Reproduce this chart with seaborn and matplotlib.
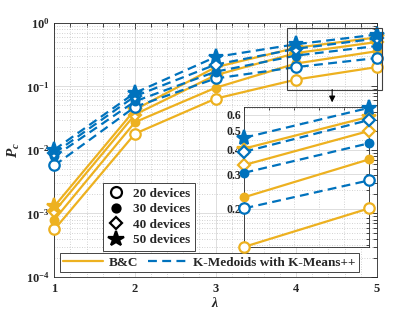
import numpy as np
import pandas as pd
import matplotlib
matplotlib.use('Agg')
import matplotlib.pyplot as plt
import seaborn as sns
from matplotlib.lines import Line2D
from matplotlib.patches import Rectangle
from matplotlib.ticker import FixedLocator, NullFormatter, MultipleLocator

# ---------------- data ----------------
lam = [1, 2, 3, 4, 5]
device_labels = ['20 devices', '30 devices', '40 devices', '50 devices']
method_labels = ['B&C', 'K-Medoids with K-Means++']

bc_20 = [5.6e-4, 0.018, 0.064, 0.128, 0.201]
bc_30 = [8.0e-4, 0.0273, 0.095, 0.229, 0.357]
bc_40 = [1.08e-3, 0.036, 0.150, 0.334, 0.498]
bc_50 = [1.3e-3, 0.043, 0.200, 0.405, 0.588]
km_20 = [5.7e-3, 0.0475, 0.133, 0.201, 0.279]
km_30 = [7.9e-3, 0.058, 0.170, 0.305, 0.431]
km_40 = [8.9e-3, 0.070, 0.220, 0.390, 0.566]
km_50 = [1.01e-2, 0.079, 0.290, 0.460, 0.653]

main_yticks = [1e-4, 1e-3, 1e-2, 1e-1, 1e0]
main_yticklabels = [r'$\mathbf{10^{-4}}$', r'$\mathbf{10^{-3}}$', r'$\mathbf{10^{-2}}$',
                    r'$\mathbf{10^{-1}}$', r'$\mathbf{10^{0}}$']
inset_yticks = [0.2, 0.3, 0.4, 0.5, 0.6]
inset_yticklabels = ['0.2', '0.3', '0.4', '0.5', '0.6']

# ---------------- style ----------------
sns.set_style('white')
plt.rcParams['font.family'] = ['Liberation Serif', 'DejaVu Serif']
plt.rcParams['font.weight'] = 'bold'
plt.rcParams['mathtext.fontset'] = 'custom'
plt.rcParams['mathtext.rm'] = 'Liberation Serif'
plt.rcParams['mathtext.it'] = 'Liberation Serif:italic'
plt.rcParams['mathtext.bf'] = 'Liberation Serif:bold'

ORANGE = '#EDB120'
BLUE = '#0072BD'
DASH = (0, (4.0, 2.4))

series = {
    ('B&C', 0): bc_20, ('B&C', 1): bc_30, ('B&C', 2): bc_40, ('B&C', 3): bc_50,
    ('KM', 0): km_20, ('KM', 1): km_30, ('KM', 2): km_40, ('KM', 3): km_50,
}
rows = []
for (m, d), vals in series.items():
    for x, v in zip(lam, vals):
        rows.append({'method': m, 'dev': d, 'lam': x, 'pc': v})
df = pd.DataFrame(rows)

marker_specs = [
    dict(marker='o', ms=7.5, filled=False),
    dict(marker='o', ms=5.5, filled=True),
    dict(marker='D', ms=6.0, filled=False),
    dict(marker='*', ms=11.0, filled=True),
]


def draw(ax, data, lw=1.6):
    for m, color, ls in [('B&C', ORANGE, '-'), ('KM', BLUE, DASH)]:
        for d in range(4):
            sub = data[(data.method == m) & (data.dev == d)]
            spec = marker_specs[d]
            sns.lineplot(data=sub, x='lam', y='pc', ax=ax, color=color,
                         linestyle=ls, lw=lw, marker=spec['marker'],
                         ms=spec['ms'], mec=color,
                         mfc=(color if spec['filled'] else 'white'),
                         mew=1.6, clip_on=False, zorder=3)


fig = plt.figure(figsize=(4.15, 3.12), dpi=100)
ax = fig.add_axes([0.131, 0.112, 0.777, 0.815])
ax.set_yscale('log')
draw(ax, df)
ax.set_xlim(1, 5)
ax.set_ylim(1e-4, 1)
ax.set_xticks(lam)
ax.set_xticklabels([str(v) for v in lam], fontsize=9, fontweight='bold')
ax.xaxis.set_minor_locator(MultipleLocator(0.2))
ax.yaxis.set_major_locator(FixedLocator(main_yticks))
ax.set_yticklabels(main_yticklabels, fontsize=9)
ax.yaxis.set_minor_formatter(NullFormatter())
ax.tick_params(which='both', direction='in', top=True, right=True, length=3, width=0.6)
ax.tick_params(which='major', length=4)
ax.tick_params(axis='x', pad=4)
ax.grid(True, which='major', color='#d8d8d8', lw=0.6)
ax.grid(True, which='minor', color='#c4c4c4', lw=0.6, linestyle=(0, (1, 2)))
for s in ax.spines.values():
    s.set_color('#262626')
    s.set_linewidth(0.6)
ax.set_xlabel(r'$\lambda$', fontsize=10, labelpad=1)
ax.set_ylabel(r'$P_c$', fontsize=11, labelpad=3)

# zoom rectangle and arrow
rect = Rectangle((3.887, 0.089), 5.07 - 3.887, 0.834 - 0.089, fill=False,
                 edgecolor='#404040', lw=0.8, clip_on=False, zorder=5)
ax.add_patch(rect)
ax.annotate('', xy=(4.446, 0.056), xytext=(4.446, 0.089),
            arrowprops=dict(arrowstyle='-|>', color='black', lw=0.8,
                            mutation_scale=9, shrinkA=0, shrinkB=0),
            annotation_clip=False, zorder=6)

# legends
shape_handles = []
for spec, lab in zip(marker_specs, device_labels):
    shape_handles.append(Line2D([], [], linestyle='none', marker=spec['marker'],
                                ms=spec['ms'] * 1.05, mec='black', mew=1.6,
                                mfc=('black' if spec['filled'] else 'white'),
                                label=lab))
leg1 = ax.legend(handles=shape_handles, loc='upper left',
                 bbox_to_anchor=(0.151, 0.370), borderaxespad=0,
                 prop=dict(family='Liberation Serif', weight='bold', size=9.5),
                 frameon=True, fancybox=False, edgecolor='#262626',
                 framealpha=1, handlelength=1.2, handletextpad=0.7,
                 labelspacing=0.25, borderpad=0.35)
leg1.get_frame().set_linewidth(0.6)
ax.add_artist(leg1)

line_handles = [Line2D([], [], color=ORANGE, lw=1.6, linestyle='-', label=method_labels[0]),
                Line2D([], [], color=BLUE, lw=1.6, linestyle=DASH, label=method_labels[1])]
leg2 = ax.legend(handles=line_handles, loc='lower left', ncol=2,
                 bbox_to_anchor=(0.018, 0.02), borderaxespad=0,
                 prop=dict(family='Liberation Serif', weight='bold', size=9.5),
                 frameon=True, fancybox=False, edgecolor='#262626',
                 framealpha=1, handlelength=3.0, handletextpad=0.4,
                 columnspacing=0.8, borderpad=0.25)
leg2.get_frame().set_linewidth(0.6)

# inset
axi = fig.add_axes([0.589, 0.209, 0.301, 0.449])
axi.set_yscale('log')
draw(axi, df[df.lam >= 4])
axi.set_xlim(4, 5)
axi.set_ylim(0.128, 0.661)
axi.set_xticks([4, 5])
axi.set_xticklabels([])
axi.xaxis.set_minor_locator(MultipleLocator(0.2))
axi.yaxis.set_major_locator(FixedLocator(inset_yticks))
axi.set_yticklabels(inset_yticklabels, fontsize=8.5, fontweight='bold')
axi.yaxis.set_minor_locator(FixedLocator([0.13, 0.14, 0.15, 0.16, 0.17, 0.18, 0.19,
                                          0.25, 0.35, 0.45, 0.55, 0.65]))
axi.yaxis.set_minor_formatter(NullFormatter())
axi.tick_params(which='both', direction='in', top=True, right=True, length=2.5, width=0.6, pad=2)
axi.grid(True, which='major', color='#d8d8d8', lw=0.6)
axi.grid(True, which='minor', color='#c4c4c4', lw=0.6, linestyle=(0, (1, 2)))
axi.set_xlabel('')
axi.set_ylabel('')
axi.set_facecolor('white')
for s in axi.spines.values():
    s.set_color('#262626')
    s.set_linewidth(0.6)

fig.savefig('out.png', dpi=100)
